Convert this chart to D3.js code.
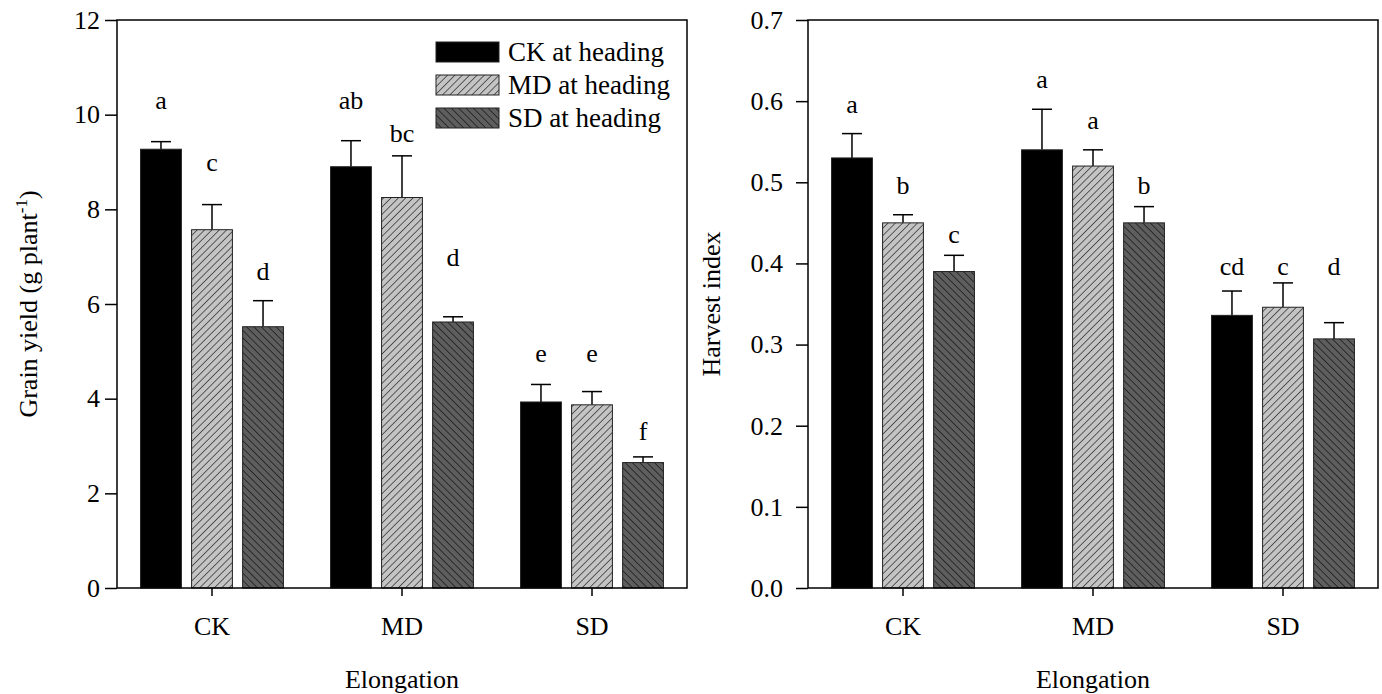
<!DOCTYPE html>
<html lang="en">
<head>
  <meta charset="UTF-8">
  <title>Grain yield and harvest index</title>
  <script src="https://d3js.org/d3.v7.min.js"></script>
  <style>
    body { margin: 0; background: #fff; }
    text { font-family: "Liberation Serif", "Times New Roman", serif; fill: #000; }
  </style>
</head>
<body>
  <svg class="chart" width="1382" height="694"></svg>
  <script>
    // categories and series
    const groups = ['CK', 'MD', 'SD'];
    const series = ['CK at heading', 'MD at heading', 'SD at heading'];

    // grain yield (g plant-1): mean, error, letters, letter heights
    const yieldMean = [[9.27, 7.57, 5.52], [8.90, 8.25, 5.62], [3.93, 3.87, 2.65]];
    const yieldErr = [[0.16, 0.53, 0.55], [0.55, 0.88, 0.11], [0.37, 0.28, 0.12]];
    const yieldLetters = [['a', 'c', 'd'], ['ab', 'bc', 'd'], ['e', 'e', 'f']];
    const yieldLetterY = [[10.13, 8.8, 6.5], [10.13, 9.43, 6.8], [4.77, 4.77, 3.12]];
    const yieldTicks = [0, 2, 4, 6, 8, 10, 12];

    // harvest index
    const hiMean = [[0.53, 0.45, 0.39], [0.54, 0.52, 0.45], [0.336, 0.346, 0.307]];
    const hiErr = [[0.03, 0.01, 0.02], [0.05, 0.02, 0.02], [0.03, 0.03, 0.02]];
    const hiLetters = [['a', 'b', 'c'], ['a', 'a', 'b'], ['cd', 'c', 'd']];
    const hiLetterY = [[0.585, 0.485, 0.425], [0.616, 0.566, 0.485], [0.386, 0.386, 0.386]];
    const hiTicks = [0, 0.1, 0.2, 0.3, 0.4, 0.5, 0.6, 0.7];

    const svg = d3.select('svg.chart');
    const font = '"Liberation Serif", "Times New Roman", serif';

    // hatch patterns
    const defs = svg.append('defs');
    function hatch(id, fill, angle) {
      const p = defs.append('pattern')
        .attr('id', id)
        .attr('patternUnits', 'userSpaceOnUse')
        .attr('width', 5.2).attr('height', 5.2)
        .attr('patternTransform', `rotate(${angle})`);
      p.append('rect').attr('width', 5.2).attr('height', 5.2).attr('fill', fill);
      p.append('line').attr('x1', 0).attr('y1', 0).attr('x2', 0).attr('y2', 5.2)
        .attr('stroke', '#000').attr('stroke-width', 1.1);
    }
    hatch('hatchMD', '#c4c4c4', 45);
    hatch('hatchSD', '#5e5e5e', -45);
    const fills = ['#000', 'url(#hatchMD)', 'url(#hatchSD)'];

    const plotTop = 20, plotBottom = 588;

    function panel(left, right, yMax, ticks, fmt, labelGap, titleOffset, means, errs, letters, letterY, yTitle, superscript) {
      const g = svg.append('g');
      const x = d3.scaleBand().domain(groups).range([left, right]).padding(0);
      const half = x.bandwidth() * 0.376;
      const xSub = d3.scaleBand().domain(series).range([-half, half]).paddingInner(0.2);
      const y = d3.scaleLinear().domain([0, yMax]).range([plotBottom, plotTop]);

      // bars
      groups.forEach((grp, gi) => {
        series.forEach((s, si) => {
          const cx = x(grp) + x.bandwidth() / 2 + xSub(s);
          const m = means[gi][si], e = errs[gi][si];
          const xc = cx + xSub.bandwidth() / 2;
          // error bar (upward only)
          g.append('line')
            .attr('x1', xc).attr('x2', xc)
            .attr('y1', y(m)).attr('y2', y(m + e))
            .attr('stroke', '#000').attr('stroke-width', 1.5);
          g.append('line')
            .attr('x1', xc - 10).attr('x2', xc + 10)
            .attr('y1', y(m + e)).attr('y2', y(m + e))
            .attr('stroke', '#000').attr('stroke-width', 1.5);
          g.append('rect')
            .attr('x', cx).attr('y', y(m))
            .attr('width', xSub.bandwidth())
            .attr('height', y(0) - y(m))
            .attr('fill', fills[si])
            .attr('stroke', '#222').attr('stroke-width', 1);
          g.append('text')
            .attr('x', xc).attr('y', y(letterY[gi][si]))
            .attr('text-anchor', 'middle')
            .attr('font-size', 26)
            .text(letters[gi][si]);
        });
      });

      // frame
      g.append('rect')
        .attr('x', left).attr('y', plotTop)
        .attr('width', right - left).attr('height', plotBottom - plotTop)
        .attr('fill', 'none').attr('stroke', '#000').attr('stroke-width', 1.5);

      // left axis
      const leftAxis = d3.axisLeft(y).tickValues(ticks).tickFormat(fmt).tickSize(12).tickPadding(labelGap);
      const ya = g.append('g')
        .attr('transform', `translate(${left},0)`)
        .call(leftAxis)
        .attr('font-family', font).attr('font-size', 26);
      ya.select('.domain').remove();
      ya.selectAll('line').attr('stroke-width', 1.5);

      // bottom axis
      const bottomAxis = d3.axisBottom(x).tickSize(8).tickPadding(21);
      const xa = g.append('g')
        .attr('transform', `translate(0,${plotBottom})`)
        .call(bottomAxis)
        .attr('font-family', font).attr('font-size', 26);
      xa.select('.domain').remove();
      xa.selectAll('line').attr('stroke-width', 1.5);

      // axis titles
      g.append('text')
        .attr('x', (left + right) / 2).attr('y', 688)
        .attr('text-anchor', 'middle')
        .attr('font-size', 26)
        .text('Elongation');

      const yt = g.append('text')
        .attr('transform', `translate(${left - titleOffset},${(plotTop + plotBottom) / 2}) rotate(-90)`)
        .attr('text-anchor', 'middle')
        .attr('font-size', 26)
        .text(yTitle);
      if (superscript) {
        yt.append('tspan').attr('font-size', 17).attr('dy', -10).text(superscript);
        yt.append('tspan').attr('dy', 10).text(')');
      }
      return { x, xSub, y };
    }

    panel(117, 687, 12, yieldTicks, d3.format('d'), 5, 80, yieldMean, yieldErr, yieldLetters, yieldLetterY,
      'Grain yield (g plant', '-1');
    panel(808, 1378, 0.7, hiTicks, d3.format('.1f'), 13, 88, hiMean, hiErr, hiLetters, hiLetterY,
      'Harvest index', null);

    // legend
    const legend = svg.append('g').attr('transform', 'translate(436,42)');
    series.forEach((s, i) => {
      legend.append('rect')
        .attr('x', 0).attr('y', i * 33)
        .attr('width', 63).attr('height', 20)
        .attr('fill', fills[i])
        .attr('stroke', '#222').attr('stroke-width', 1);
      legend.append('text')
        .attr('x', 72).attr('y', i * 33 + 19)
        .attr('font-size', 27)
        .text(s);
    });
  </script>
</body>
</html>
